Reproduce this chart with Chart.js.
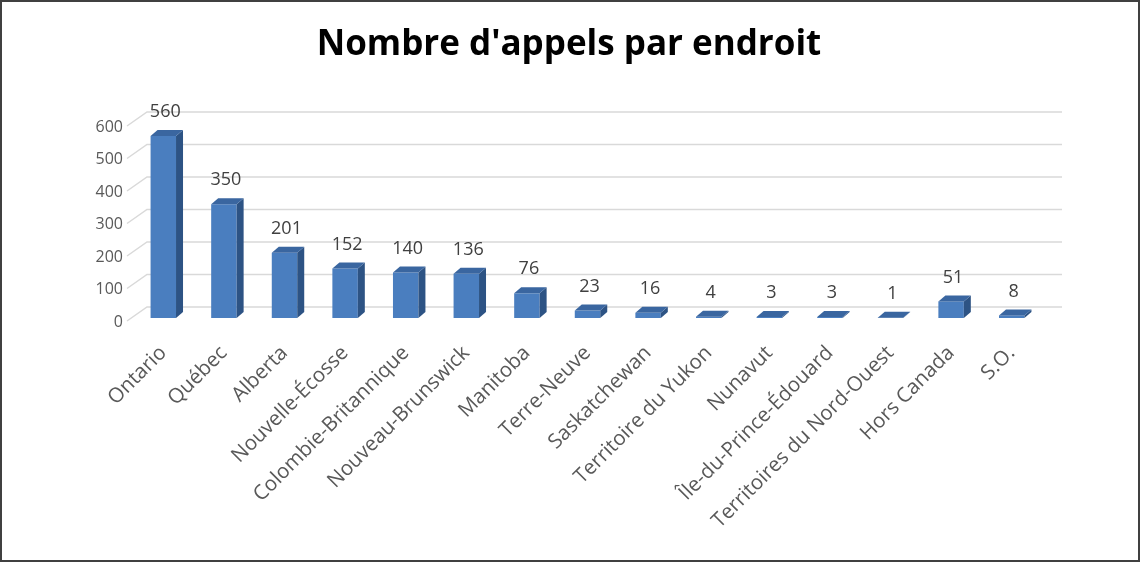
<!DOCTYPE html>
<html>
<head>
<meta charset="utf-8">
<script src="https://cdn.jsdelivr.net/npm/chart.js@4/dist/chart.umd.min.js"></script>
<style>
  html, body { margin: 0; padding: 0; background: #fff; }
  #wrap { width: 1140px; height: 562px; position: relative; }
</style>
</head>
<body>
<div id="wrap"><canvas id="chart" width="1140" height="562"></canvas></div>
<script>
// Data
const categories = ['Ontario', 'Québec', 'Alberta', 'Nouvelle-Écosse', 'Colombie-Britannique',
    'Nouveau-Brunswick', 'Manitoba', 'Terre-Neuve', 'Saskatchewan', 'Territoire du Yukon',
    'Nunavut', 'Île-du-Prince-Édouard', 'Territoires du Nord-Ouest', 'Hors Canada', 'S.O.'];
const appels = [560, 350, 201, 152, 140, 136, 76, 23, 16, 4, 3, 3, 1, 51, 8];
const yTicks = [0, 100, 200, 300, 400, 500, 600];
const titre = "Nombre d'appels par endroit";

const FONT = '"Open Sans", "Noto Sans", sans-serif';

// 3D look: back wall gridlines, side/top faces, value labels, title
const bar3d = {
    id: 'bar3d',
    beforeDatasetsDraw(chart) {
        const ctx = chart.ctx;
        const y = chart.scales.y;
        const area = chart.chartArea;
        ctx.save();
        ctx.strokeStyle = '#d9d9d9';
        ctx.lineWidth = 1.5;
        y.ticks.forEach(t => {
            const py = y.getPixelForValue(t.value);
            ctx.beginPath();
            ctx.moveTo(area.left - 6, py + 3);
            ctx.lineTo(area.left + 14, py - 11);
            ctx.lineTo(area.right + 20, py - 11);
            ctx.stroke();
        });
        ctx.restore();
    },
    afterDatasetsDraw(chart) {
        const ctx = chart.ctx;
        const meta = chart.getDatasetMeta(0);
        const dx = 7, dy = -6;
        ctx.save();
        meta.data.forEach((bar, i) => {
            const l = bar.x - bar.width / 2;
            const r = bar.x + bar.width / 2;
            const top = bar.y, base = bar.base;
            // side face
            ctx.fillStyle = '#2d5384';
            ctx.beginPath();
            ctx.moveTo(r, top);
            ctx.lineTo(r + dx, top + dy);
            ctx.lineTo(r + dx, base + dy);
            ctx.lineTo(r, base);
            ctx.closePath();
            ctx.fill();
            // top face
            ctx.fillStyle = '#3a66a0';
            ctx.beginPath();
            ctx.moveTo(l, top);
            ctx.lineTo(l + dx, top + dy);
            ctx.lineTo(r + dx, top + dy);
            ctx.lineTo(r, top);
            ctx.closePath();
            ctx.fill();
            // value label
            ctx.fillStyle = '#404040';
            ctx.font = '18px ' + FONT;
            ctx.textAlign = 'center';
            ctx.textBaseline = 'middle';
            ctx.fillText(String(appels[i]), bar.x + 2, top - 24);
        });
        ctx.restore();
    },
    afterDraw(chart) {
        const ctx = chart.ctx;
        ctx.save();
        // title
        ctx.fillStyle = '#000';
        ctx.font = 'bold 35px ' + FONT;
        ctx.textAlign = 'center';
        ctx.textBaseline = 'middle';
        ctx.fillText(titre, chart.width / 2 - 1, 45);
        // frame
        ctx.strokeStyle = '#404040';
        ctx.lineWidth = 2;
        ctx.strokeRect(1, 1, chart.width - 2, chart.height - 2);
        ctx.restore();
    }
};

const ctx = document.getElementById('chart').getContext('2d');
const chart = new Chart(ctx, {
    type: 'bar',
    data: {
        labels: categories,
        datasets: [{
            label: "Nombre d'appels",
            data: appels,
            backgroundColor: '#4a7ebf',
            borderWidth: 0,
            categoryPercentage: 1,
            barPercentage: 0.42
        }]
    },
    options: {
        responsive: false,
        animation: false,
        layout: { padding: { left: 0, right: 98, top: 123, bottom: 0 } },
        plugins: {
            legend: { display: false },
            tooltip: { enabled: false },
            title: { display: false }
        },
        scales: {
            y: {
                min: 0,
                max: 600,
                afterBuildTicks(scale) {
                    scale.ticks = yTicks.map(v => ({ value: v }));
                },
                afterFit(scale) { scale.width = 133; },
                grid: { display: false },
                border: { display: false },
                ticks: {
                    color: '#595959',
                    font: { family: FONT, size: 16 },
                    padding: 2,
                    labelOffset: 4
                }
            },
            x: {
                afterFit(scale) { scale.height = 244; },
                grid: { display: false },
                border: { display: false },
                ticks: {
                    color: '#595959',
                    font: { family: FONT, size: 20.5 },
                    minRotation: 45,
                    maxRotation: 45,
                    autoSkip: false,
                    padding: 15
                }
            }
        }
    },
    plugins: [bar3d]
});
</script>
</body>
</html>
